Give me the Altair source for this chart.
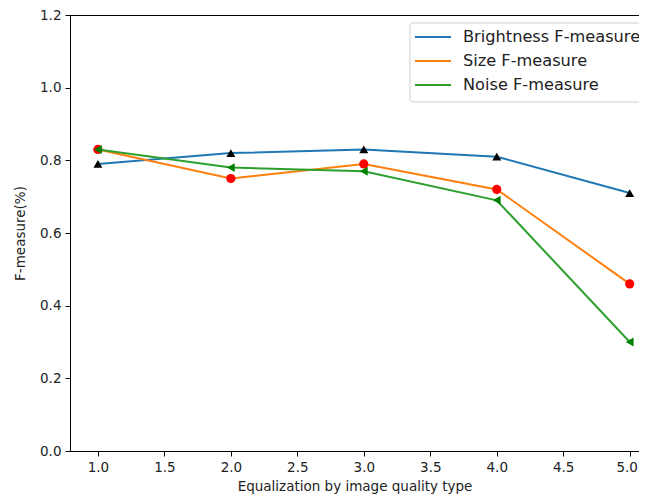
import altair as alt
import pandas as pd

x_vals = [1.0, 2.0, 3.0, 4.0, 5.0]
brightness = [0.79, 0.82, 0.83, 0.81, 0.71]
size_vals = [0.83, 0.75, 0.79, 0.72, 0.46]
noise = [0.83, 0.78, 0.77, 0.69, 0.30]

series_names = ["Brightness F-measure", "Size F-measure", "Noise F-measure"]
line_colors = ["#1f77b4", "#ff7f0e", "#2ca02c"]
marker_colors = ["#000000", "#ff0000", "#008000"]
marker_shapes = ["triangle-up", "circle", "triangle-left"]

x_ticks = [1.0, 1.5, 2.0, 2.5, 3.0, 3.5, 4.0, 4.5, 5.0]
y_ticks = [0.0, 0.2, 0.4, 0.6, 0.8, 1.0, 1.2]

W, H = 569, 436
FONT = "DejaVu Sans"

rows = []
for name, vals in zip(series_names, [brightness, size_vals, noise]):
    for xv, yv in zip(x_vals, vals):
        rows.append({"x": xv, "y": yv, "series": name})
df = pd.DataFrame(rows)

xscale = alt.Scale(domain=[0.79, 5.07], nice=False, zero=False)
yscale = alt.Scale(domain=[0.0, 1.2], nice=False, zero=True)

xaxis = alt.Axis(values=x_ticks, format=".1f", grid=False, title="Equalization by image quality type",
                 domainColor="#000000", tickColor="#000000", tickSize=5, labelPadding=4,
                 labelFontSize=13.5, titleFontSize=13.5, titlePadding=6, labelColor="#222222",
                 titleColor="#222222", labelFont=FONT, titleFont=FONT, titleFontWeight="normal",
                 domainWidth=1,
                 labelOffset={"condition": {"test": "datum.value >= 5", "value": -3}, "value": 0})
yaxis = alt.Axis(values=y_ticks, format=".1f", grid=False, title="F-measure(%)",
                 domainColor="#000000", tickColor="#000000", tickSize=5, labelPadding=4,
                 labelFontSize=13.5, titleFontSize=13.5, titlePadding=12, labelColor="#222222",
                 titleColor="#222222", labelFont=FONT, titleFont=FONT, titleFontWeight="normal",
                 domainWidth=1)

layers = []
for i, name in enumerate(series_names):
    sub = df[df["series"] == name]
    base = alt.Chart(sub)
    line = base.mark_line(color=line_colors[i], strokeWidth=2).encode(
        x=alt.X("x:Q", scale=xscale, axis=xaxis),
        y=alt.Y("y:Q", scale=yscale, axis=yaxis),
    )
    pts = base.mark_point(shape=marker_shapes[i], filled=True, opacity=1,
                          color=marker_colors[i], size=80 if i != 1 else 85).encode(
        x=alt.X("x:Q", scale=xscale, axis=xaxis),
        y=alt.Y("y:Q", scale=yscale, axis=yaxis),
    )
    layers += [line, pts]

# top spine
top = alt.Chart(pd.DataFrame({"a": [0]})).mark_rule(color="#000000", strokeWidth=1).encode(
    x=alt.value(0), x2=alt.value(W), y=alt.value(0.5)
)

# legend
leg_df = pd.DataFrame({"label": series_names, "color": line_colors, "idx": [0, 1, 2]})
box = alt.Chart(pd.DataFrame({"a": [0]})).mark_rect(
    fill="white", stroke="#cccccc", strokeWidth=1, cornerRadius=3, opacity=0.9
).encode(x=alt.value(340), x2=alt.value(W + 6), y=alt.value(8), y2=alt.value(87))
leg_lines = alt.Chart(leg_df).transform_calculate(ly="22 + datum.idx * 24").mark_rule(strokeWidth=2).encode(
    x=alt.value(345), x2=alt.value(381),
    y=alt.Y("ly:Q", scale=None),
    color=alt.Color("color:N", scale=None),
)
leg_text = alt.Chart(leg_df).transform_calculate(ly="22 + datum.idx * 24").mark_text(
    align="left", baseline="middle", fontSize=16.2, font=FONT, color="#222222"
).encode(
    x=alt.value(393),
    y=alt.Y("ly:Q", scale=None),
    text="label:N",
)

chart = alt.layer(*layers, top, box, leg_lines, leg_text).properties(
    width=W, height=H,
    autosize=alt.AutoSizeParams(type="none"),
    padding={"left": 62, "top": 7, "right": 0, "bottom": 45},
).configure_view(stroke=None).configure(background="white")

chart.save("out.html", embed_options={"renderer": "svg", "actions": False})
